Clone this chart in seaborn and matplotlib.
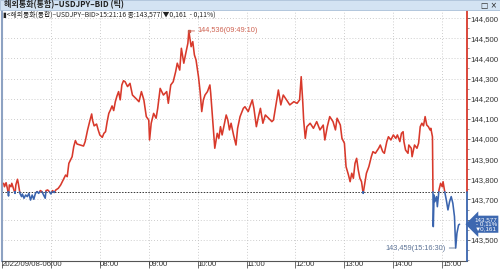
import numpy as np
import pandas as pd
import matplotlib
matplotlib.use("Agg")
import matplotlib.pyplot as plt
import seaborn as sns
from matplotlib import font_manager
from matplotlib.patches import Rectangle

# ---------------- data ----------------
title = "해외통화(통합)–USDJPY–BID (틱)"
symbol = "해외통화(통합)–USDJPY–BID"
date_label = "2022/09/08"
last_time = "15:21:16"
prev_close = 143.738
last_price = 143.577
change = -0.161
change_pct = -0.11
high_val, high_time = 144.536, "09:49:10"
low_val, low_time = 143.459, "15:16:30"

times = [
    "06:02", "06:03", "06:05", "06:07", "06:08", "06:09", "06:11", "06:12", "06:14", "06:16",
    "06:17", "06:19", "06:20", "06:22", "06:24", "06:25", "06:27", "06:29", "06:31", "06:33",
    "06:35", "06:37", "06:39", "06:41", "06:43", "06:45", "06:47", "06:49", "06:51", "06:53",
    "06:54", "06:56", "06:58", "07:00", "07:02", "07:04", "07:06", "07:09", "07:12", "07:15",
    "07:18", "07:20", "07:22", "07:24", "07:26", "07:28", "07:30", "07:32", "07:36", "07:40",
    "07:42", "07:45", "07:48", "07:50", "07:51", "07:53", "07:56", "07:58", "08:00", "08:03",
    "08:05", "08:07", "08:09", "08:11", "08:13", "08:15", "08:17", "08:19", "08:21", "08:23",
    "08:25", "08:27", "08:29",
    "08:31", "08:34", "08:37", "08:40", "08:44", "08:48", "08:51", "08:54", "08:57", "09:00",
    "09:01", "09:03", "09:06", "09:09", "09:11", "09:14", "09:16", "09:18", "09:22", "09:24",
    "09:27", "09:30", "09:33", "09:35", "09:38", "09:40", "09:43", "09:45", "09:48", "09:49:10",
    "09:52", "09:54", "09:56", "09:58", "10:01", "10:03", "10:05", "10:07", "10:09", "10:12",
    "10:15", "10:16", "10:19", "10:21", "10:24", "10:26", "10:28", "10:30", "10:33", "10:35",
    "10:37", "10:39", "10:41", "10:44", "10:47", "10:49", "10:52", "10:56",
    "10:58", "11:02", "11:07", "11:09", "11:12", "11:15", "11:17", "11:20", "11:23", "11:27",
    "11:31", "11:33", "11:36", "11:39", "11:42", "11:45", "11:49", "11:53", "11:58", "12:02",
    "12:05", "12:07", "12:09", "12:10", "12:12", "12:14", "12:18", "12:22", "12:26", "12:30",
    "12:34", "12:36", "12:39", "12:42", "12:46", "12:49", "12:51", "12:55", "12:57", "13:00",
    "13:02", "13:05", "13:07", "13:09", "13:11", "13:13", "13:15", "13:17", "13:19", "13:21",
    "13:23",
    "13:25", "13:27", "13:30", "13:33", "13:35", "13:38", "13:42", "13:44", "13:47", "13:49",
    "13:52", "13:54", "13:57", "14:00", "14:03", "14:05", "14:08", "14:10", "14:12", "14:13",
    "14:15", "14:18", "14:19", "14:22", "14:23", "14:26", "14:29", "14:31", "14:33", "14:35",
    "14:37", "14:39", "14:41", "14:43", "14:45", "14:46", "14:48", "14:49", "14:50", "14:51",
    "14:53", "14:54", "14:56", "14:58", "15:00", "15:01", "15:03", "15:05", "15:07", "15:09",
    "15:11", "15:13", "15:15", "15:16:30", "15:18", "15:20", "15:21:16",
]
values = [
    143.780, 143.763, 143.783, 143.747, 143.717, 143.772, 143.763, 143.780, 143.755, 143.730,
    143.772, 143.800, 143.780, 143.730, 143.714, 143.727, 143.706, 143.722, 143.714, 143.730,
    143.697, 143.722, 143.701, 143.730, 143.739, 143.730, 143.744, 143.739, 143.722, 143.706,
    143.744, 143.747, 143.739, 143.727, 143.744, 143.734, 143.747, 143.755, 143.772, 143.797,
    143.821, 143.813, 143.879, 143.896, 143.912, 143.962, 143.992, 143.975, 143.970, 143.965,
    143.987, 144.045, 144.094, 144.124, 144.094, 144.065, 144.074, 144.045, 144.020, 144.008,
    144.028, 144.036, 144.086, 144.127, 144.144, 144.164, 144.141, 144.185, 144.213, 144.235,
    144.194, 144.268, 144.289,
    144.284, 144.260, 144.276, 144.218, 144.202, 144.185, 144.235, 144.194, 144.111, 144.094,
    143.995, 144.078, 144.127, 144.103, 144.152, 144.251, 144.235, 144.218, 144.235, 144.177,
    144.268, 144.284, 144.334, 144.376, 144.342, 144.450, 144.376, 144.417, 144.475, 144.536,
    144.458, 144.483, 144.417, 144.392, 144.309, 144.235, 144.136, 144.194, 144.218, 144.235,
    144.268, 144.227, 144.061, 143.954, 144.028, 144.003, 144.061, 144.020, 144.078, 144.119,
    144.094, 144.045, 144.078, 144.020, 143.970, 144.053, 144.111, 144.152,
    144.160, 144.136, 144.194, 144.152, 144.061, 144.119, 144.152, 144.078, 144.119, 144.103,
    144.086, 144.094, 144.169, 144.243, 144.169, 144.218, 144.194, 144.169, 144.185, 144.177,
    144.194, 144.309, 144.177, 144.094, 144.003, 144.061, 144.078, 144.053, 144.086, 144.045,
    144.069, 143.995, 144.061, 144.111, 144.086, 144.045, 144.103, 144.069, 144.003, 143.979,
    143.863, 143.821, 143.788, 143.830, 143.805, 143.879, 143.904, 143.846, 143.805, 143.788,
    143.730,
    143.780, 143.830, 143.863, 143.912, 143.937, 143.929, 143.954, 143.970, 143.937, 143.929,
    143.987, 144.011, 143.995, 144.020, 144.003, 144.020, 143.987, 144.028, 144.036, 143.987,
    143.945, 143.929, 143.970, 143.954, 143.912, 143.970, 143.954, 143.979, 144.061, 144.078,
    144.065, 144.111, 144.069, 144.061, 144.045, 144.053, 144.011, 143.565, 143.722, 143.689,
    143.714, 143.664, 143.747, 143.780, 143.763, 143.788, 143.739, 143.697, 143.648, 143.689,
    143.714, 143.681, 143.615, 143.459, 143.532, 143.573, 143.577,
]
assert len(times) == len(values)

xtick_times = ["06:00", "07:00", "08:00", "09:00", "10:00", "11:00", "12:00", "13:00", "14:00", "15:00"]
xtick_labels = [date_label + "-06:00", "", "08:00", "09:00", "10:00", "11:00", "12:00", "13:00", "14:00", "15:00"]
ytick_vals = [143.5, 143.6, 143.7, 143.8, 143.9, 144.0, 144.1, 144.2, 144.3, 144.4, 144.5, 144.6]
hidden_ytick = 143.6  # covered by the current-price box in the reference
x_end_time = "15:30"
y_range = (143.3945, 144.635)

# ---------------- helpers ----------------
def tmin(s):
    p = [int(x) for x in s.split(":")]
    while len(p) < 3:
        p.append(0)
    return p[0] * 60 + p[1] + p[2] / 60.0 - 360.0

def fmt(v, nd=3):
    return f"{v:.{nd}f}".replace(".", ",")

RED = "#d8392b"
BLUE = "#3a64ae"

names = {f.name for f in font_manager.fontManager.ttflist}
NARROW = "Liberation Sans Narrow" if "Liberation Sans Narrow" in names else "Liberation Sans"
KR = "Noto Sans CJK KR"

sns.set_theme(style="white")
plt.rcParams["font.family"] = [NARROW, KR, "DejaVu Sans"]

# split line into above / below previous close segments
t = np.array([tmin(s) for s in times])
v = np.array(values)
pts = []
for i in range(len(t) - 1):
    pts.append((t[i], v[i]))
    if (v[i] - prev_close) * (v[i + 1] - prev_close) < 0:
        tc = t[i] + (prev_close - v[i]) / (v[i + 1] - v[i]) * (t[i + 1] - t[i])
        pts.append((tc, prev_close))
pts.append((t[-1], v[-1]))

rows = []
seg = 0
cur_side = None
for j in range(len(pts) - 1):
    (t0, v0), (t1, v1) = pts[j], pts[j + 1]
    side = "up" if (v0 + v1) / 2 >= prev_close else "down"
    if side != cur_side:
        seg += 1
        cur_side = side
        rows.append((t0, v0, seg, side))
    rows.append((t1, v1, seg, side))
df = pd.DataFrame(rows, columns=["t", "v", "seg", "side"])

# ---------------- figure ----------------
fig = plt.figure(figsize=(5.0, 2.73), dpi=100)
fig.patch.set_facecolor("white")
ax = fig.add_axes([2 / 500, 12 / 273, 464.7 / 500, 250 / 273])
ax.set_facecolor("white")

ax.set_xlim(0, tmin(x_end_time))
ax.set_ylim(*y_range)

# grid
for yv in ytick_vals:
    ax.axhline(yv, color="#bdbdbd", lw=0.6, ls=(0, (1, 2.5)), zorder=0.5)
for xt in xtick_times[1:]:
    ax.axvline(tmin(xt), color="#bdbdbd", lw=0.6, ls=(0, (1, 2.5)), zorder=0.5)

# previous close
ax.axhline(prev_close, color="#333333", lw=0.7, ls=(0, (1.5, 1.5)), zorder=1)

sns.lineplot(data=df, x="t", y="v", hue="side", units="seg", estimator=None, sort=False,
             palette={"up": RED, "down": BLUE}, legend=False, lw=1.15, ax=ax, zorder=3)

# right axis line coloured by side of previous close
ax.plot([1, 1], [prev_close, y_range[1]], transform=ax.get_yaxis_transform(), color=RED,
        lw=1.3, clip_on=False, zorder=4)
ax.plot([1, 1], [y_range[0], prev_close], transform=ax.get_yaxis_transform(), color=BLUE,
        lw=1.3, clip_on=False, zorder=4)

for s in ["top", "right"]:
    ax.spines[s].set_visible(False)
ax.spines["left"].set_color("#8da2c2")
ax.spines["left"].set_linewidth(1.5)
ax.spines["bottom"].set_color("#555555")
ax.spines["bottom"].set_linewidth(0.8)

# ticks
ax.set_xticks([tmin(s) for s in xtick_times])
ax.set_xticklabels(xtick_labels)
ax.tick_params(axis="x", bottom=True, direction="out", length=5, width=0.6, color="#555555",
               pad=-4.8, labelsize=5.6, labelcolor="#333333")
for lab in ax.get_xticklabels():
    lab.set_ha("left")

ax.yaxis.tick_right()
ax.set_yticks(ytick_vals)
ax.set_yticklabels(["" if abs(y - hidden_ytick) < 1e-9 else fmt(y) for y in ytick_vals])
ax.set_yticks(np.arange(143.4, 144.65, 0.05), minor=True)
ax.tick_params(axis="y", which="major", right=True, direction="out", length=2.2, width=0.6,
               color="#555555", pad=0.6, labelsize=5.6, labelcolor="#333333")
ax.tick_params(axis="y", which="minor", right=True, direction="out", length=1.2, width=0.5,
               color="#777777")
ax.set_xlabel("")
ax.set_ylabel("")

# high / low annotations
ax.plot([tmin(high_time)], [high_val], marker="s", ms=1.5, color="#c85a4a", zorder=5)
ax.annotate(f"{fmt(high_val)}({high_time})", xy=(tmin(high_time), high_val), xytext=(6.5, 0),
            textcoords="offset points", ha="left", va="center", fontsize=5.3, color="#cf6453",
            arrowprops=dict(arrowstyle="-", color="#cf6453", lw=0.6, shrinkA=0, shrinkB=0), zorder=6)
ax.annotate(f"{fmt(low_val)}({low_time})", xy=(tmin(low_time), low_val), xytext=(-7, 0),
            textcoords="offset points", ha="right", va="center", fontsize=5.3, color="#5d7396",
            arrowprops=dict(arrowstyle="-", color="#5d7396", lw=0.6, shrinkA=0, shrinkB=0), zorder=6)

# current price box
ax.annotate(f"{fmt(last_price)}\n- {fmt(abs(change_pct), 2)}%\n▼{fmt(abs(change))}",
            xy=(1.0, last_price), xycoords=("axes fraction", "data"), xytext=(5.5, 0),
            textcoords="offset points", ha="left", va="center", ma="right", fontsize=4.5,
            color="white", linespacing=0.95, annotation_clip=False, zorder=10,
            family=[NARROW, "DejaVu Sans"],
            bbox=dict(boxstyle="larrow,pad=0.2", fc="#3d68b0", ec="none"))

# title bar
fig.patches.append(Rectangle((0, 1 - 10 / 273), 1, 10 / 273, transform=fig.transFigure,
                             fc="#d3e3f3", ec="#a9bfd8", lw=0.6, zorder=0))
fig.text(4 / 500, 1 - 5.2 / 273, title, fontsize=5.8, weight="bold", va="center", ha="left",
         color="#222222", family=[KR, "DejaVu Sans"])
fig.text(0.994, 1 - 5.2 / 273, "□ ×", fontsize=5.5, va="center", ha="right", color="#222222",
         family=["DejaVu Sans"])

sub = f"▮<{symbol}>{last_time} 종:{fmt(last_price)}(▼{fmt(abs(change))}  - {fmt(abs(change_pct), 2)}%)"
fig.text(3 / 500, 1 - 14.5 / 273, sub, fontsize=4.9, va="center", ha="left", color="#222222",
         family=[KR, "DejaVu Sans"])

fig.savefig("out.png", dpi=100)
